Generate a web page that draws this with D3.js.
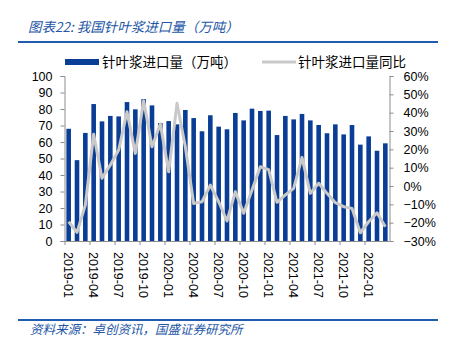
<!DOCTYPE html>
<html><head><meta charset="utf-8">
<script src="https://cdn.jsdelivr.net/npm/d3@7"></script>
<style>
body{margin:0;background:#fff;}
svg{display:block;}
</style></head>
<body>
<svg id="c" width="449" height="348"></svg>
<script>
const months = ["2019-01","2019-02","2019-03","2019-04","2019-05","2019-06","2019-07","2019-08","2019-09","2019-10","2019-11","2019-12",
"2020-01","2020-02","2020-03","2020-04","2020-05","2020-06","2020-07","2020-08","2020-09","2020-10","2020-11","2020-12",
"2021-01","2021-02","2021-03","2021-04","2021-05","2021-06","2021-07","2021-08","2021-09","2021-10","2021-11","2021-12",
"2022-01","2022-02","2022-03"];
const volume = [68,49,65.5,83,72.5,75.8,75.5,84.2,79.8,86,82.2,71.5,
72.7,70.7,79.4,74.5,66.5,76.2,69.3,67.7,77.6,73.1,80.2,78.8,
79,64.2,75.8,73.7,77,73.1,70.3,65.3,70.7,64.6,70.3,58.4,
63.4,54.7,59.2];
const yoy = [-19.5,-25.3,-10.4,28.2,4.2,11.5,19.6,40.5,17.8,46.5,21.4,33.8,
7.8,45.1,21.4,-9.5,-8.6,0.5,-8.6,-19.1,-3.1,-14.9,-2.2,10.5,
8.9,-8.9,-4.9,-1.3,15.6,-4.0,1.5,-4.0,-9.1,-11.3,-12.2,-25.5,
-19.5,-14.6,-22.2];
const leftTicks = [0,10,20,30,40,50,60,70,80,90,100];
const rightTicks = [-0.3,-0.2,-0.1,0,0.1,0.2,0.3,0.4,0.5,0.6];
const tickMonths = ["2019-01","2019-04","2019-07","2019-10","2020-01","2020-04","2020-07","2020-10","2021-01","2021-04","2021-07","2021-10","2022-01"];
const title = "图表22:  我国针叶浆进口量（万吨）";
const source = "资料来源：卓创资讯，国盛证券研究所";
const legendNames = ["针叶浆进口量（万吨）","针叶浆进口量同比"];

const svg = d3.select("#c");
const L = 64.5, R = 389.5, T = 76, B = 241;
const blue = "#0a3e96", gray = "#c9c9c9", axisCol = "#8c8c8c";
const textFont = "'Liberation Sans', Arial, sans-serif";
const cjk = "'Noto Sans CJK SC', sans-serif";

// title
svg.append("text").attr("x", 28).attr("y", 32).text(title)
  .attr("font-family", cjk).attr("font-size", 13.5).attr("font-style","italic")
  .attr("fill", "#2456a6");
svg.append("line").attr("x1",18).attr("x2",438).attr("y1",42).attr("y2",42)
  .attr("stroke","#1f5bb0").attr("stroke-width",2);
svg.append("line").attr("x1",18).attr("x2",438).attr("y1",320).attr("y2",320)
  .attr("stroke","#1f5bb0").attr("stroke-width",2);
svg.append("text").attr("x", 30).attr("y", 334).text(source)
  .attr("font-family", cjk).attr("font-size", 12.5).attr("font-style","italic")
  .attr("fill", "#2456a6");

const x = d3.scaleBand().domain(months).range([L, R]);
const y = d3.scaleLinear().domain([0,100]).range([B, T]);
const y2 = d3.scaleLinear().domain([-0.3,0.6]).range([B, T]);

// bars
const bw = 4.6;
svg.append("g").selectAll("rect").data(volume).join("rect")
  .attr("x", (d,i)=> x(months[i]) + x.bandwidth()/2 - bw/2)
  .attr("width", bw)
  .attr("y", d=> y(d)).attr("height", d=> B - y(d))
  .attr("fill", blue);

// line
const line = d3.line().x((d,i)=> x(months[i]) + x.bandwidth()/2).y(d=> y2(d/100));
svg.append("path").datum(yoy).attr("d", line).attr("fill","none")
  .attr("stroke", gray).attr("stroke-width", 3).attr("stroke-linejoin","round");

// axes
const gl = svg.append("g").attr("transform", `translate(${L},0)`)
  .call(d3.axisLeft(y).tickValues(leftTicks).tickSize(4).tickPadding(8));
const gr = svg.append("g").attr("transform", `translate(${R},0)`)
  .call(d3.axisRight(y2).tickValues(rightTicks).tickSize(4).tickPadding(10).tickFormat(d3.format(".0%")));
[gl, gr].forEach(g=>{
  g.selectAll("path,line").attr("stroke", axisCol);
  g.selectAll("text").attr("font-family", textFont).attr("font-size", 12.5).attr("fill","#000");
});
// bottom axis
const gb = svg.append("g");
gb.append("line").attr("x1",L).attr("x2",R).attr("y1",B+0.5).attr("y2",B+0.5).attr("stroke",axisCol);
gb.selectAll("line.t").data(tickMonths).join("line").attr("class","t")
  .attr("x1", d=> x(d)+0.5).attr("x2", d=> x(d)+0.5).attr("y1", B).attr("y2", B+4).attr("stroke", axisCol);
gb.selectAll("text").data(tickMonths).join("text")
  .attr("transform", d=> `translate(${x(d)+x.bandwidth()/2 - 4.5},${B+11}) rotate(90)`)
  .attr("font-family", textFont).attr("font-size", 12.5).attr("fill","#000")
  .text(d=>d);

// legend
const lg = svg.append("g");
lg.append("rect").attr("x",65).attr("y",59).attr("width",34).attr("height",6).attr("fill",blue);
lg.append("text").attr("x",102).attr("y",67).text(legendNames[0])
  .attr("font-family", cjk).attr("font-size", 13.5).attr("fill","#000");
lg.append("line").attr("x1",262).attr("x2",296).attr("y1",62).attr("y2",62).attr("stroke",gray).attr("stroke-width",3);
lg.append("text").attr("x",298).attr("y",67).text(legendNames[1])
  .attr("font-family", cjk).attr("font-size", 13.5).attr("fill","#000");
</script>
</body></html>
